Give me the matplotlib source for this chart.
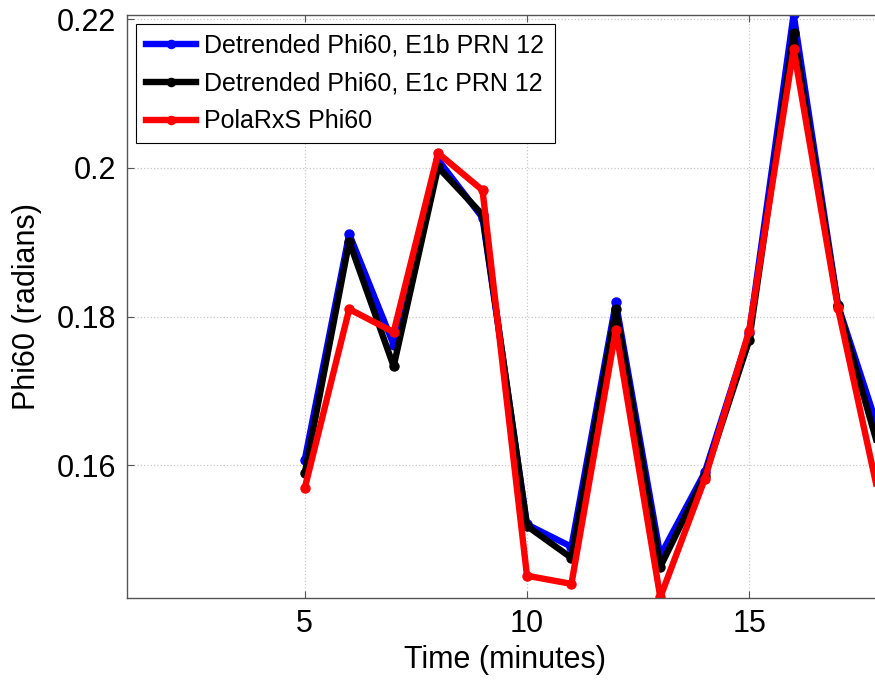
import numpy as np
import matplotlib.pyplot as plt
from matplotlib.ticker import FormatStrFormatter

plt.rcParams['font.family'] = ['Liberation Sans', 'DejaVu Sans']

# time axis (minutes)
t = [5, 6, 7, 8, 9, 10, 11, 12, 13, 14, 15, 16, 17, 18]

# detrended phase scintillation index, E1b signal
phi_e1b = [0.1607, 0.1911, 0.1762, 0.2011, 0.1933, 0.1520, 0.1490,
           0.1819, 0.1478, 0.1590, 0.1778, 0.2207, 0.1815, 0.1631]
# detrended phase scintillation index, E1c signal
phi_e1c = [0.1589, 0.1901, 0.1733, 0.2001, 0.1937, 0.1518, 0.1475,
           0.1810, 0.1463, 0.1585, 0.1768, 0.2182, 0.1814, 0.1604]
# receiver output
phi_polarxs = [0.1569, 0.1810, 0.1779, 0.2020, 0.1970, 0.1451, 0.1440,
               0.1782, 0.1422, 0.1581, 0.1781, 0.2160, 0.1811, 0.1535]

fig = plt.figure(figsize=(8.75, 6.93), dpi=100)
ax = fig.add_axes([127/875, 95/693, 755.5/875, 583/693])

lw = 4.6
ms = 6.5
ax.plot(t, phi_e1b, '-o', color='#0000ff', lw=lw, ms=ms,
        label='Detrended Phi60, E1b PRN 12')
ax.plot(t, phi_e1c, '-o', color='k', lw=lw, ms=ms,
        label='Detrended Phi60, E1c PRN 12')
ax.plot(t, phi_polarxs, '-o', color='#ff0000', lw=lw, ms=ms,
        label='PolaRxS Phi60')

ax.set_xlim(1, 18)
ax.set_ylim(0.1421, 0.2206)
ax.set_xticks([5, 10, 15])
ax.set_yticks([0.16, 0.18, 0.2, 0.22])
ax.yaxis.set_major_formatter(FormatStrFormatter('%g'))

ax.grid(True, color='#c8c8c8', linestyle=':', linewidth=0.9)
ax.tick_params(direction='in', length=5, width=0.8, color='#555555',
               labelsize=22, top=True, right=True, pad=8)
for s in ax.spines.values():
    s.set_color('#555555')
    s.set_linewidth(1.0)

ax.set_xlabel('Time (minutes)', fontsize=22, labelpad=4)
ax.set_ylabel('Phi60 (radians)', fontsize=22, labelpad=10)

leg = ax.legend(loc='upper left', fontsize=18, frameon=True, fancybox=False,
                borderaxespad=0.35, handlelength=2.0, handletextpad=0.35,
                borderpad=0.4, labelspacing=0.55, markerscale=0.9)
leg.get_frame().set_edgecolor('k')
leg.get_frame().set_linewidth(0.8)
leg.get_frame().set_alpha(1)

fig.savefig('out.png', dpi=100)
